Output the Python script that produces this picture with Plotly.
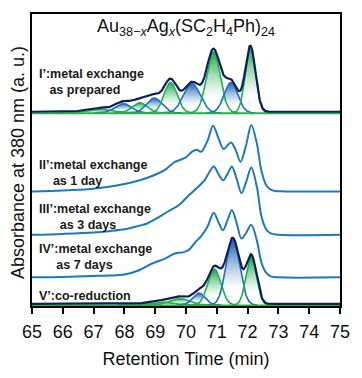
import numpy as np
import plotly.graph_objects as go

# ---------------- data ----------------
# vertical offsets of the stacked traces (arbitrary absorbance units)
offset_I, offset_II, offset_III, offset_IV, offset_V = 208, 123, 76, 30, 0

# Panel I' : Gaussian deconvolution (center min, height, sigma)
I_green_c = [72.09, 70.89, 69.50, 68.50, 67.20]
I_green_h = [71, 66, 33, 11, 4]
I_green_s = [0.165, 0.22, 0.21, 0.24, 0.40]
I_blue_c = [71.46, 70.19, 68.97, 67.96]
I_blue_h = [33, 32, 16, 10]
I_blue_s = [0.22, 0.27, 0.25, 0.26]

# Panel V' : Gaussian deconvolution
V_green_c = [72.12, 70.92, 69.80, 69.20]
V_green_h = [52, 39, 7, 3]
V_green_s = [0.17, 0.21, 0.32, 0.40]
V_blue_c = [71.52, 70.42]
V_blue_h = [71, 13]
V_blue_s = [0.22, 0.20]

# Panels II'-IV' : chromatograms
II_x = [65, 66, 67, 67.5, 68, 68.5, 69, 69.3, 69.6, 69.8, 70.0, 70.2, 70.35, 70.5, 70.7,
        70.88, 71.05, 71.22, 71.46, 71.6, 71.77, 71.95, 72.12, 72.3, 72.45, 72.6, 72.75,
        72.9, 73.2, 75]
II_y = [0, 1, 3, 5, 8, 12, 18, 23, 31, 34, 37, 43, 45, 43, 55, 71, 58, 46, 53, 46, 32,
        50, 72, 52, 22, 7, 2, 0.5, 0, 0]

III_x = [65, 66, 67, 67.5, 68, 68.5, 68.72, 69, 69.4, 69.76, 70.07, 70.3, 70.6, 70.9,
         71.05, 71.2, 71.35, 71.49, 71.65, 71.8, 71.95, 72.12, 72.3, 72.45, 72.6, 72.75,
         73, 75]
III_y = [0, 1, 2.5, 4, 6, 10, 12, 17, 25, 32, 42, 49, 59, 74, 66, 59, 66, 74, 60, 45, 57,
         73, 52, 20, 6, 1.5, 0, 0]

IV_x = [65, 66, 67, 67.5, 68, 68.5, 68.9, 69.3, 69.66, 69.9, 70.1, 70.3, 70.5, 70.7, 70.9,
        71.05, 71.2, 71.35, 71.49, 71.65, 71.8, 71.95, 72.12, 72.3, 72.45, 72.6, 72.75, 73, 75]
IV_y = [0, 0.5, 1.5, 2, 3, 8, 15, 20, 26, 27, 30, 38, 45, 55, 70, 60, 51, 62, 73, 58, 42,
        48, 57, 40, 16, 5, 1, 0, 0]

labels = [
    ("I’:metal exchange", "as prepared"),
    ("II’:metal exchange", "as 1 day"),
    ("III’:metal exchange", "as 3 days"),
    ("IV’:metal exchange", "as 7 days"),
    ("V’:co-reduction", None),
]
x_ticks = list(range(65, 76))

# ---------------- styles ----------------
GREEN = "#22b04b"
GREEN_FILL = "#18a345"
BLUE = "#1f6fc4"
BLUE_FILL = "#1a5dad"
NAVY = "#0f1f5a"
SPEC = "#1b78c8"
FONT = "Liberation Sans, Arial, sans-serif"

fig = go.Figure()


def gauss(x, c, h, s):
    return h * np.exp(-((x - c) ** 2) / (2 * s * s))


def add_deconv(off, gc, gh, gs, bc, bh, bs):
    xs = np.linspace(65, 75, 1201)
    env = np.zeros_like(xs)
    comps = []
    for c, h, s in zip(gc, gh, gs):
        comps.append((c, h, s, GREEN, GREEN_FILL))
    for c, h, s in zip(bc, bh, bs):
        comps.append((c, h, s, BLUE, BLUE_FILL))
    comps.sort(key=lambda t: t[0])
    for c, h, s, lc, fc in comps:
        env += gauss(xs, c, h, s)
    # fills
    for c, h, s, lc, fc in comps:
        xx = np.linspace(c - 3.6 * s, c + 3.6 * s, 120)
        yy = gauss(xx, c, h, s) + off
        px = np.concatenate([xx, xx[::-1]])
        py = np.concatenate([yy, np.full_like(xx, off)])
        fig.add_trace(go.Scatter(
            x=px, y=py, mode="lines", fill="toself", line=dict(width=0),
            fillgradient=dict(type="vertical",
                              colorscale=[[0, "rgba(255,255,255,0.9)"], [0.25, "rgba(255,255,255,0.6)"], [1, fc]]),
            hoverinfo="skip", showlegend=False))
    # component lines
    for c, h, s, lc, fc in comps:
        xx = np.linspace(c - 3.6 * s, c + 3.6 * s, 120)
        fig.add_trace(go.Scatter(x=xx, y=gauss(xx, c, h, s) + off, mode="lines",
                                 line=dict(color=lc, width=1.6), hoverinfo="skip",
                                 showlegend=False))
    fig.add_trace(go.Scatter(x=[65, 75], y=[off - 0.5, off - 0.5], mode="lines",
                             line=dict(color=GREEN, width=2), showlegend=False))
    fig.add_trace(go.Scatter(x=xs, y=env + off + 1.2, mode="lines",
                             line=dict(color=NAVY, width=2.2), showlegend=False))


add_deconv(offset_I, I_green_c, I_green_h, I_green_s, I_blue_c, I_blue_h, I_blue_s)

for xs_, ys_, off in [(II_x, II_y, offset_II), (III_x, III_y, offset_III), (IV_x, IV_y, offset_IV)]:
    fig.add_trace(go.Scatter(x=xs_, y=[v + off for v in ys_], mode="lines",
                             line=dict(color=SPEC, width=2, shape="spline", smoothing=0.9),
                             showlegend=False))

add_deconv(offset_V, V_green_c, V_green_h, V_green_s, V_blue_c, V_blue_h, V_blue_s)

# ---------------- text ----------------
label_pos = [  # (x, y centre, indent of second line in spaces)
    (65.16, 241, 3),
    (65.16, 143, 4),
    (65.16, 95, 6),
    (65.16, 52, 5),
    (65.16, 10, 0),
]
for (l1, l2), (x1, yc, ind) in zip(labels, label_pos):
    txt = "<b>" + l1 + "</b>"
    if l2:
        txt += "<br><b>" + "&nbsp;" * ind + l2 + "</b>"
    fig.add_annotation(x=x1, y=yc, text=txt, showarrow=False, align="left",
                       xanchor="left", yanchor="middle",
                       font=dict(family=FONT, size=12.5, color="#1a1a1a"))

fig.add_annotation(x=70, y=300,
                   text="Au<sub>38−<i>x</i></sub>Ag<sub><i>x</i></sub>(SC<sub>2</sub>H<sub>4</sub>Ph)<sub>24</sub>",
                   showarrow=False, xanchor="center", yanchor="middle",
                   font=dict(family=FONT, size=18, color="#111111"))

fig.add_annotation(xref="paper", yref="paper", x=-0.045, y=0.49,
                   text="Absorbance at 380 nm (a. u.)", textangle=-90, showarrow=False,
                   xanchor="center", yanchor="middle",
                   font=dict(family=FONT, size=18, color="#111111"))

fig.update_layout(
    width=362, height=378,
    margin=dict(l=32, r=12, t=13, b=49),
    paper_bgcolor="white", plot_bgcolor="white",
    showlegend=False,
    xaxis=dict(range=[65, 75], tickvals=x_ticks, ticks="outside", ticklen=6, tickwidth=1.5,
               tickcolor="black", showline=True, linecolor="black", linewidth=2, mirror=True,
               showgrid=False, zeroline=False, ticklabelstandoff=2,
               tickfont=dict(family=FONT, size=18, color="#111111"),
               title=dict(text="Retention Time (min)", standoff=12,
                          font=dict(family=FONT, size=18, color="#111111"))),
    yaxis=dict(range=[-1, 315], showticklabels=False, ticks="", showline=True,
               linecolor="black", linewidth=2, mirror=True, showgrid=False, zeroline=False),
)

fig.write_html("out.html")
